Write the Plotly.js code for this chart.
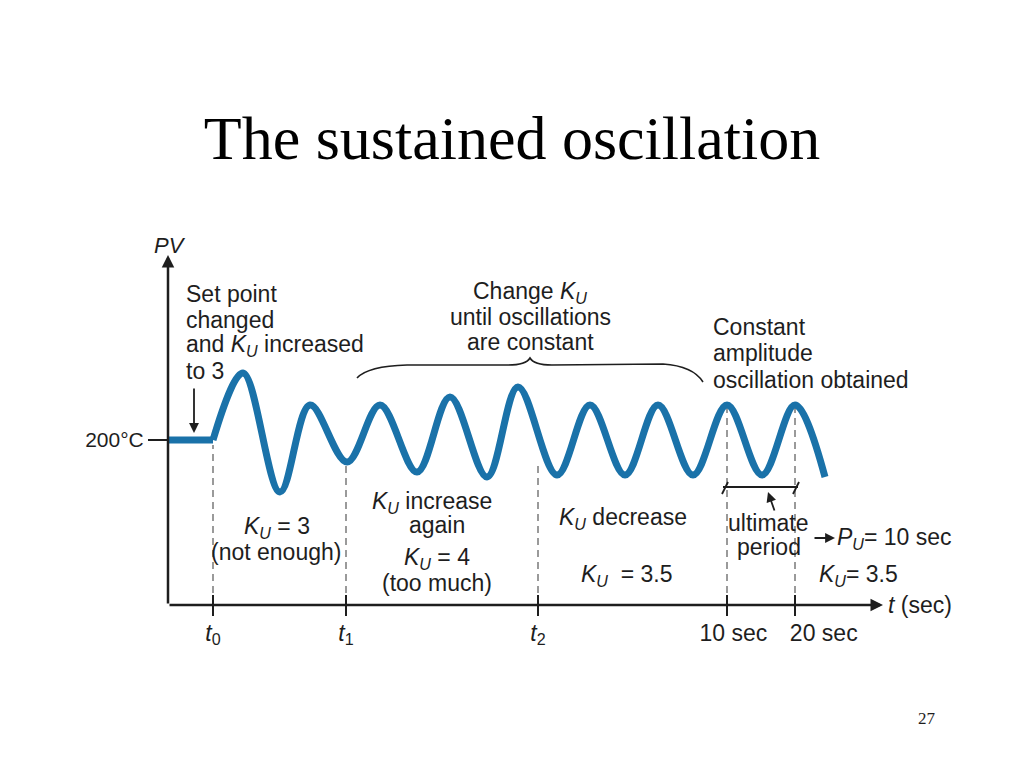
<!DOCTYPE html>
<html>
<head>
<meta charset="utf-8">
<script src="https://cdn.plot.ly/plotly-3.0.1.min.js"></script>
<style>html,body{margin:0;padding:0;background:#fff;overflow:hidden}</style>
</head>
<body>
<div id="chart" style="width:1024px;height:768px"></div>
<script>
// ---- data (x: time along the axis, y: process variable; 200 = set-point level) ----
const flatTime = [0, 45];
const flatPV = [200, 200];
const waveTime = [45, 75, 112, 142, 179, 212, 249, 282, 319, 350, 389, 422, 457, 490, 525, 559, 594, 627, 657];
const wavePV   = [200, 267, 148, 235, 178, 235, 168, 243, 163, 253, 165, 235, 165, 235, 165, 235, 165, 235, 163];
const tickTimes = [45, 178, 370, 559, 627];
const tickLabels = ['<i>t</i><sub>0</sub>', '<i>t</i><sub>1</sub>', '<i>t</i><sub>2</sub>',
                    '\u00a0\u00a010 sec', '\u00a0\u00a0\u00a0\u00a0\u00a0\u00a0\u00a0\u00a0\u00a020 sec'];
const guideTop = [195, 174, 176, 232, 232];
const setPointValue = [200];
const setPointLabel = ['200°C'];

// ---- styling ----
const SANS = 'Liberation Sans, Arial, sans-serif';
const SERIF = 'Liberation Serif, Times New Roman, serif';
const INK = '#1e1e1e';
const BLUE = '#1a72a9';
const AXIS_Y = 35;          // PV level at which the time axis is drawn
const KU = '<i>K</i><sub><i>U</i></sub>';

const traces = [
  {x: flatTime, y: flatPV, mode: 'lines', line: {color: BLUE, width: 7}, hoverinfo: 'skip'},
  {x: waveTime, y: wavePV, mode: 'lines', line: {color: BLUE, width: 7, shape: 'spline', smoothing: 1}, hoverinfo: 'skip'}
];

const shapes = [];
// dashed guides from the curve down to the time axis
tickTimes.forEach((t, i) => {
  shapes.push({type: 'line', xref: 'x', yref: 'y', x0: t, x1: t, y0: AXIS_Y, y1: guideTop[i],
    line: {color: '#7a7a7a', width: 1.5, dash: '7px,5px'}, layer: 'below'});
  // upper half of the crossing tick
  shapes.push({type: 'line', xref: 'x', yref: 'y', x0: t, x1: t, y0: AXIS_Y, y1: AXIS_Y + 10,
    line: {color: INK, width: 2}});
});
// ultimate period bracket between the 10 sec and 20 sec peaks
const pA = tickTimes[3] - 4, pB = tickTimes[4] + 3, pY = 153;
shapes.push({type: 'line', x0: pA, x1: pB, y0: pY, y1: pY, line: {color: INK, width: 1.8}});
shapes.push({type: 'line', x0: pA - 1, x1: pA + 5, y0: pY - 7, y1: pY + 5, line: {color: INK, width: 1.8}});
shapes.push({type: 'line', x0: pB - 5, x1: pB + 1, y0: pY - 7, y1: pY + 5, line: {color: INK, width: 1.8}});
// curly brace over the tuning region
shapes.push({type: 'path', xref: 'x', yref: 'y',
  path: 'M 189,262 Q 200,274 239,275 L 340,275 Q 358,275 362,282 Q 366,275 384,275 L 495,276 Q 525,274 535,258',
  line: {color: INK, width: 1.6}});

function T(text, x, y, xanchor, size, extra) {
  return Object.assign({text: text, x: x, y: y, xref: 'x', yref: 'y', xanchor: xanchor || 'center',
    yanchor: 'middle', showarrow: false, borderpad: 0,
    font: {family: SANS, size: size || 23, color: INK}}, extra || {});
}
function ARROW(x, y, ax, ay, w, sz) {
  return {text: '', x: x, y: y, ax: ax, ay: ay, xref: 'x', yref: 'y', axref: 'x', ayref: 'y',
    showarrow: true, arrowhead: 2, arrowsize: sz || 1, arrowwidth: w || 2, arrowcolor: INK};
}

const annotations = [
  // axes with arrowheads
  ARROW(0, 385, 0, AXIS_Y, 2.5, 1),
  ARROW(715, AXIS_Y, 0, AXIS_Y, 2.5, 1),
  T('<i>PV</i>', -15, 395, 'left', 22),
  T('<i>t</i> (sec)', 719, AXIS_Y, 'left', 23),
  // set point note
  T('Set point', 17, 346, 'left'),
  T('changed', 17, 320, 'left'),
  T('and ' + KU + ' increased', 17, 295, 'left'),
  T('to 3', 17, 269, 'left'),
  ARROW(26, 207, 26, 253, 1.8, 1.1),
  // brace note
  T('Change ' + KU, 362, 348),
  T('until oscillations', 362, 323),
  T('are constant', 362, 298),
  // constant amplitude note
  T('Constant', 544, 313, 'left'),
  T('amplitude', 544, 287, 'left'),
  T('oscillation obtained', 544, 260, 'left'),
  // region notes
  T(KU + ' = 3', 109, 113),
  T('(not enough)', 108, 88),
  T(KU + ' increase', 264, 138),
  T('again', 269, 115),
  T(KU + ' = 4', 269, 82),
  T('(too much)', 269, 57),
  T(KU + ' decrease', 390, 122, 'left'),
  T(KU + '\u00a0\u00a0= 3.5', 459, 65),
  T('ultimate', 600, 117),
  T('period', 601, 93),
  ARROW(600, 148, 607, 128, 1.8, 1.1),
  ARROW(667, 102, 645, 102, 1.8, 1.1),
  T('<i>P</i><sub><i>U</i></sub>= 10 sec', 668, 102, 'left'),
  T(KU + '= 3.5', 650, 65, 'left'),
  // slide number
  T('27', 759, -78, 'center', 17, {font: {family: SERIF, size: 17, color: INK}})
];

const layout = {
  width: 1024, height: 768,
  margin: {l: 0, r: 0, t: 0, b: 0, pad: 0},
  paper_bgcolor: '#fff', plot_bgcolor: '#fff',
  showlegend: false, hovermode: false,
  title: {text: 'The sustained oscillation', x: 0.5, xref: 'paper', xanchor: 'center',
          y: 1 - 137 / 768, yref: 'container', yanchor: 'middle',
          font: {family: SERIF, size: 62, color: '#000'}},
  xaxis: {range: [-168, 856], anchor: 'free', position: 163 / 768, showgrid: false, zeroline: false,
          showline: false, tickmode: 'array', tickvals: tickTimes, ticktext: tickLabels,
          tickangle: 0, automargin: false, ticklabelstandoff: -3,
          ticks: 'outside', ticklen: 10, tickwidth: 2, tickcolor: INK,
          tickfont: {family: SANS, size: 23, color: INK}, fixedrange: true},
  yaxis: {range: [-128, 640], anchor: 'free', position: 168 / 1024, showgrid: false, zeroline: false,
          showline: false, tickmode: 'array', tickvals: setPointValue, ticktext: setPointLabel,
          tickangle: 0, automargin: false,
          ticks: 'outside', ticklen: 20, tickwidth: 1.5, tickcolor: INK,
          tickfont: {family: SANS, size: 21, color: INK}, fixedrange: true},
  shapes: shapes,
  annotations: annotations
};

Plotly.newPlot('chart', traces, layout, {staticPlot: true, displayModeBar: false});
</script>
</body>
</html>
